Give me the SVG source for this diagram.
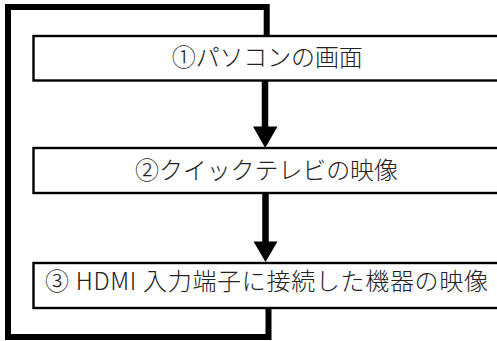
<svg xmlns="http://www.w3.org/2000/svg" width="497" height="341" viewBox="0 0 497 341">
<style>
.box{fill:#fff;stroke:#000;stroke-width:2.4}
.lbl{font-family:"Noto Sans CJK JP","Noto Sans",sans-serif;font-size:24px;font-weight:300;fill:#222;text-anchor:middle}
.loop{fill:none;stroke:#000;stroke-width:6;stroke-linejoin:miter}
.shaft{stroke:#000;stroke-width:6.5}
</style>
<rect width="497" height="341" fill="#fff"/>
<g id="connectors">
<path class="loop" d="M268.5 308 V337 H8 V7 H266.7 V36"/>
<line class="shaft" x1="265" y1="80.5" x2="265" y2="128"/>
<polygon points="253,126.5 277.5,126.5 265.2,148"/>
<line class="shaft" x1="265.5" y1="193" x2="265.5" y2="243"/>
<polygon points="253.5,241.5 277.5,241.5 265.5,262"/>
</g>
<g id="node1">
<rect class="box" x="33.5" y="36" width="480" height="44.5"/>
<text class="lbl" x="267.3" y="65.5" textLength="191" lengthAdjust="spacing">①パソコンの画面</text>
</g>
<g id="node2">
<rect class="box" x="33.5" y="148" width="480" height="45"/>
<text class="lbl" x="266.5" y="178.5" textLength="263" lengthAdjust="spacing">②クイックテレビの映像</text>
</g>
<g id="node3">
<rect class="box" x="33.5" y="263" width="480" height="45"/>
<text class="lbl" x="266.5" y="290" textLength="443" lengthAdjust="spacing">③ HDMI 入力端子に接続した機器の映像</text>
</g>
</svg>
